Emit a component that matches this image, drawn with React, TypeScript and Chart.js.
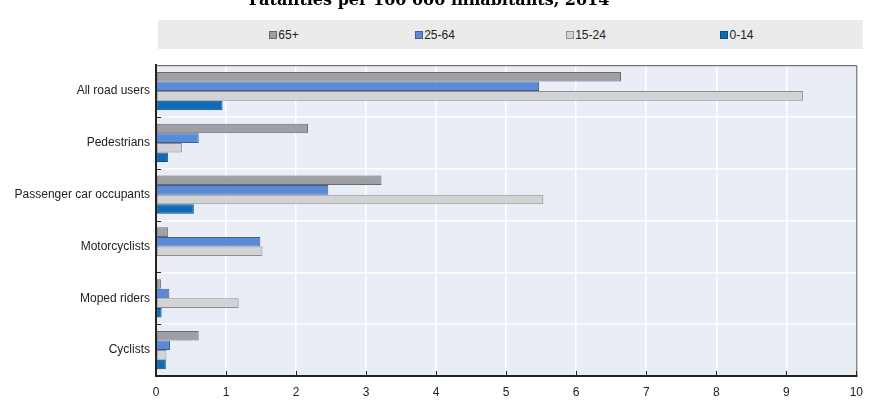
import { useEffect, useRef } from "react";
import { Chart, registerables } from "chart.js";

Chart.register(...registerables);

const categories = [
  "All road users",
  "Pedestrians",
  "Passenger car occupants",
  "Motorcyclists",
  "Moped riders",
  "Cyclists",
];
const seriesNames = ["65+", "25-64", "15-24", "0-14"];
const age65plus = [6.64, 2.17, 3.22, 0.17, 0.07, 0.61];
const age25to64 = [5.47, 0.61, 2.46, 1.49, 0.19, 0.2];
const age15to24 = [9.24, 0.37, 5.53, 1.52, 1.18, 0.15];
const age0to14 = [0.95, 0.17, 0.54, null, 0.08, 0.14];
const xMin = 0;
const xMax = 10;
const xStep = 1;

const fills = ["#a0a0a4", "#5b8ad6", "#d3d3d5", "#0e6bb6"];
const borders = ["#6a6a6e", "#3d5f9e", "#8e8e92", "#0a4c86"];
const FONT = '"Liberation Sans", Arial, sans-serif';

// plot background, top/right frame and the little inward ticks
const plotFrame = {
  id: "plotFrame",
  beforeDraw(chart: any) {
    const { ctx, chartArea: a } = chart;
    ctx.save();
    ctx.fillStyle = "#e9edf6";
    ctx.fillRect(a.left, a.top, a.right - a.left, a.bottom - a.top);
    ctx.restore();
  },
  afterDraw(chart: any) {
    const { ctx, chartArea: a, scales } = chart;
    ctx.save();
    ctx.strokeStyle = "#555";
    ctx.lineWidth = 1;
    ctx.beginPath();
    ctx.moveTo(a.left, a.top + 0.5);
    ctx.lineTo(a.right + 0.5, a.top + 0.5);
    ctx.lineTo(a.right + 0.5, a.bottom);
    ctx.stroke();

    ctx.strokeStyle = "#222";
    ctx.beginPath();
    const x = scales.x;
    const y = scales.y;
    x.ticks.forEach((t: any) => {
      const px = Math.round(x.getPixelForValue(t.value)) + 0.5;
      ctx.moveTo(px, a.bottom);
      ctx.lineTo(px, a.bottom - 5);
    });
    for (let i = 1; i < categories.length; i++) {
      const py = Math.round((y.getPixelForValue(i - 1) + y.getPixelForValue(i)) / 2) + 0.5;
      ctx.moveTo(a.left, py);
      ctx.lineTo(a.left + 5, py);
    }
    ctx.stroke();
    ctx.restore();
  },
};

const App = () => {
  const canvasRef = useRef<HTMLCanvasElement>(null);

  useEffect(() => {
    if (!canvasRef.current) return;
    const values = [age65plus, age25to64, age15to24, age0to14];
    const chart = new Chart(canvasRef.current, {
      type: "bar",
      data: {
        labels: categories,
        datasets: seriesNames.map((name, i) => ({
          label: name,
          data: values[i],
          backgroundColor: fills[i],
          borderColor: borders[i],
          borderWidth: 1,
          borderSkipped: false,
          categoryPercentage: 0.74,
          barPercentage: 1,
        })),
      },
      options: {
        indexAxis: "y",
        responsive: false,
        animation: false,
        layout: { padding: { right: 14 } },
        plugins: {
          legend: { display: false },
          tooltip: { enabled: false },
          title: {
            display: true,
            text: "Fatalities per 100 000 inhabitants, 2014",
            color: "#000",
            font: { family: '"DejaVu Serif"', size: 16, weight: "bold" },
            padding: { top: 3, bottom: 55 },
          },
        },
        scales: {
          x: {
            min: xMin,
            max: xMax,
            ticks: {
              stepSize: xStep,
              color: "#222",
              padding: 9,
              font: { family: FONT, size: 12 },
            },
            grid: { color: "#ffffff", lineWidth: 1.5, drawTicks: false },
            border: { color: "#222", width: 2 },
            afterFit: (s: any) => {
              s.height = 30;
            },
          },
          y: {
            ticks: {
              color: "#222",
              padding: 6,
              font: { family: FONT, size: 12 },
            },
            grid: { color: "#ffffff", lineWidth: 1.5, drawTicks: false, offset: true },
            border: { color: "#222", width: 2 },
            afterFit: (s: any) => {
              s.width = 156;
            },
          },
        },
      },
      plugins: [plotFrame],
    });
    return () => chart.destroy();
  }, []);

  return (
    <div
      style={{
        position: "fixed",
        left: 0,
        top: 0,
        width: 872,
        height: 406,
        overflow: "hidden",
        background: "#fff",
      }}
    >
      <canvas
        ref={canvasRef}
        width={872}
        height={418}
        style={{ position: "absolute", left: 0, top: -12 }}
      />
      <div
        style={{
          position: "absolute",
          left: 158,
          top: 20,
          width: 705,
          height: 29,
          background: "#ebebeb",
          display: "flex",
          justifyContent: "center",
          alignItems: "center",
          fontFamily: FONT,
          fontSize: 12,
          color: "#222",
        }}
      >
        {seriesNames.map((name, i) => (
          <div
            key={name}
            style={{ width: 151, display: "flex", justifyContent: "center", alignItems: "center" }}
          >
            <span
              style={{
                display: "inline-block",
                boxSizing: "border-box",
                width: 8,
                height: 8,
                background: fills[i],
                border: `1px solid ${borders[i]}`,
                marginRight: 1,
              }}
            />
            <span>{name}</span>
          </div>
        ))}
      </div>
    </div>
  );
};

export default App;
